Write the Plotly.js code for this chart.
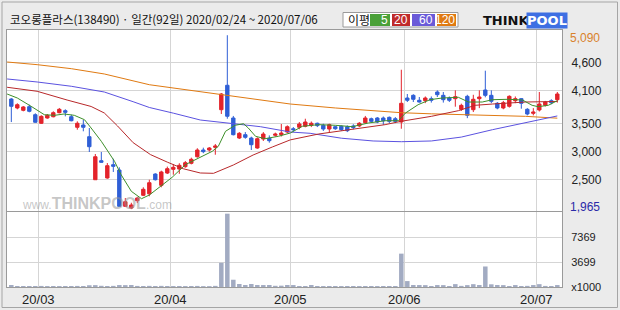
<!DOCTYPE html>
<html><head><meta charset="utf-8">
<script src="https://cdn.plot.ly/plotly-3.0.1.min.js"></script>
<style>html,body{margin:0;padding:0;background:#ebebeb;} #chart{width:620px;height:310px;}</style>
</head><body><div id="chart"></div>
<script>
// ---- data (daily candles, 2020/02/24 ~ 2020/07/06, 92 trading days) ----
const openP  = [3944,3783,3741,3806,3662,3508,3603,3626,3698,3734,3626,3436,3477,3267,2494,2836,2525,2764,2668,2016,1985,2117,2214,2240,2596,2393,2614,2681,2686,2728,2789,2907,3028,3028,3076,3752,4191,3603,3243,3303,3243,3064,3226,3238,3292,3303,3351,3410,3436,3454,3472,3508,3472,3405,3446,3454,3446,3460,3460,3518,3590,3603,3603,3615,3590,3531,3962,4010,3921,3914,3950,4070,4010,3962,3950,3759,3992,3752,3950,4106,4010,3867,3783,3813,3914,3950,3759,3687,3747,3831,3914,3932];
const highP  = [3960,3867,3818,3842,3687,3651,3674,3723,3783,3759,3662,3543,3567,3423,2956,2992,2794,2871,2717,2165,2080,2187,2358,2494,2610,2656,2730,2776,2790,2830,2890,3060,3070,3080,3135,4052,5090,3640,3350,3350,3267,3256,3350,3290,3340,3495,3470,3440,3530,3590,3540,3520,3500,3500,3460,3470,3470,3490,3530,3640,3610,3620,3630,3630,3620,4470,4034,4030,3980,3990,3990,4100,4070,3990,4100,3860,4020,4020,4100,4453,4100,3890,3910,4010,3990,3960,3780,3780,4070,3910,3940,4070];
const lowP   = [3530,3759,3723,3705,3520,3495,3590,3615,3687,3633,3543,3393,3364,2992,2494,2800,2512,2633,2010,2004,1965,2075,2200,2196,2480,2358,2596,2584,2600,2710,2770,2890,2970,3000,2943,3675,3590,3290,3225,3230,3028,3050,3190,3160,3270,3270,3330,3360,3400,3436,3440,3440,3370,3350,3390,3370,3350,3400,3440,3500,3520,3510,3480,3510,3510,3410,3890,3890,3880,3870,3880,3980,3880,3890,3806,3730,3600,3710,3780,3975,3870,3760,3760,3790,3870,3770,3650,3650,3720,3810,3850,3880];
const closeP = [3813,3842,3801,3723,3526,3633,3651,3698,3759,3705,3554,3508,3436,3087,2907,2807,2746,2735,2016,2099,2040,2165,2322,2440,2494,2633,2692,2717,2753,2800,2861,3028,2998,3064,3100,4034,3634,3303,3328,3256,3123,3231,3315,3195,3315,3333,3446,3393,3495,3531,3508,3466,3405,3483,3410,3393,3375,3430,3508,3603,3543,3531,3554,3543,3543,3867,3921,3939,3890,3962,3921,4022,3932,3921,3986,3830,3651,3939,3980,4010,3903,3783,3878,3992,3950,3867,3675,3710,3855,3890,3878,4034];
// volume, in thousands of shares
const volume = [300,150,150,150,150,160,140,150,140,150,150,160,150,260,280,180,150,170,290,280,300,160,150,170,150,170,150,140,150,140,150,160,130,130,170,3600,10900,1080,450,300,450,300,290,300,180,200,300,290,150,150,300,150,140,150,150,140,150,150,140,150,150,140,150,150,150,4960,880,300,290,280,150,290,280,150,430,170,280,420,300,3050,400,300,280,150,290,150,170,290,420,160,150,290];
// moving averages (x = trading-day index)
const ma5X  = [-0.7,1,3.3,5.5,7.2,8.8,10.5,12.2,13.3,15,17.2,18.3,20,21.7,23,24.5,26.8,29,31.2,33.5,34.5,35.7,37.3,38.7,39.5,40.7,42.3,44.5,46.5,48.5,51.2,54,56.8,59.5,62.3,64.5,65.7,67.8,69.8,71.8,74.5,76.2,78.5,80.2,82.8,85.2,86.8,87.8,89.5,91];
const ma5Y  = [4034,3962,3813,3662,3651,3675,3651,3572,3423,3184,2825,2584,2286,2153,2219,2345,2537,2764,2884,3005,3094,3364,3472,3500,3423,3274,3231,3274,3333,3454,3483,3472,3447,3513,3554,3554,3693,3842,3932,3962,3975,3890,3890,3932,3939,3926,3831,3806,3831,3914];
const ma20X = [-0.7,4.3,9.3,13.3,15.5,17.7,20.3,23.2,26,28.7,31.5,33.7,37,40.3,43.5,46.5,51.2,56.8,62.3,65,70,74.5,77.3,80.2,85.7,91];
const ma20Y = [4155,4083,3926,3810,3693,3460,3160,2945,2810,2690,2615,2609,2758,2938,3082,3210,3315,3393,3483,3544,3633,3734,3831,3854,3890,3900];
const ma60X = [-0.7,4.3,10,15.5,20.3,23,27,31.5,41.5,46.5,49.8,55,60.3,65,70,75,80.2,85.7,91];
const ma60Y = [4304,4250,4173,4070,3896,3792,3690,3567,3447,3351,3328,3240,3190,3177,3190,3260,3393,3513,3640];
const ma120X = [-0.7,4.3,10,15.5,23,29,34.5,39,46.5,54,62.3,65,70,77,85.7,91];
const ma120Y = [4609,4561,4489,4394,4201,4111,4022,3962,3854,3783,3723,3698,3678,3662,3633,3600];
// axis labels
const monthTickPos = [4.5,26.5,46.5,65.5,87.5];
const monthLabels  = ['20/03','20/04','20/05','20/06','20/07'];
const priceTickVals = [2500,3000,3500,4100,4600];
const priceTickText = ['2,500','3,000','3,500','4,100','4,600'];
const priceMax = 5090, priceMin = 1965;
const volTickVals = [0,3699,7369];
const volTickText = ['x1000','3699','7369'];
const titleText = '코오롱플라스(138490) · 일간(92일) 2020/02/24 ~ 2020/07/06';
const maNames = ['5','20','60','120'];
const maColors = ['#3d8f2a','#b8282a','#5b52e0','#e07a12'];

const idx = openP.map((_, i) => i);

// pixel -> paper helpers (plot area: x 7..562, y 30..287)
const PL=7, PR=562, PT=30, PB=287;
const px = x => (x-PL)/(PR-PL);
const py = y => (PB-y)/(PB-PT);

const maLine = (x, y, c) => ({type:'scatter', mode:'lines', x:x, y:y, xaxis:'x', yaxis:'y',
  line:{color:c, width:1}, hoverinfo:'skip'});

const traces = [
  maLine(ma120X, ma120Y, maColors[3]),
  maLine(ma60X, ma60Y, maColors[2]),
  maLine(ma20X, ma20Y, maColors[1]),
  maLine(ma5X, ma5Y, maColors[0]),
  {type:'candlestick', x:idx, open:openP, high:highP, low:lowP, close:closeP, xaxis:'x', yaxis:'y',
   increasing:{line:{color:'#e3232b', width:1}, fillcolor:'#e3232b'},
   decreasing:{line:{color:'#2f5fd6', width:1}, fillcolor:'#2f5fd6'},
   whiskerwidth:0, hoverinfo:'skip'},
  {type:'bar', x:idx, y:volume, xaxis:'x2', yaxis:'y2', marker:{color:'#a2abc2', line:{width:0}}, hoverinfo:'skip'}
];

const grid = '#d5d5d5', border = '#9a9a9a';
const font = {family:'Liberation Sans, Arial, sans-serif', size:12, color:'#222'};

const shapes = [
  {type:'rect', xref:'paper', yref:'paper', x0:px(2), x1:px(617.5), y0:py(2), y1:py(307.5), line:{color:'#a5a5a5', width:1}},
  {type:'rect', xref:'paper', yref:'paper', x0:px(343), x1:px(458), y0:py(12.5), y1:py(27), fillcolor:'#ffffff', line:{color:'#9a9a9a', width:1}},
  {type:'rect', xref:'paper', yref:'paper', x0:px(370), x1:px(390), y0:py(14), y1:py(26), fillcolor:'#4aa038', line:{width:0}},
  {type:'rect', xref:'paper', yref:'paper', x0:px(392), x1:px(410), y0:py(14), y1:py(26), fillcolor:'#c02a2a', line:{width:0}},
  {type:'rect', xref:'paper', yref:'paper', x0:px(412), x1:px(435), y0:py(14), y1:py(26), fillcolor:'#6a5ad8', line:{width:0}},
  {type:'rect', xref:'paper', yref:'paper', x0:px(437), x1:px(456), y0:py(14), y1:py(26), fillcolor:'#e07a12', line:{width:0}}
];

const ann = (x, y, text, extra) => Object.assign({xref:'paper', yref:'paper', x:x, y:y, text:text,
  showarrow:false, xanchor:'left', yanchor:'middle'}, extra||{});

const annotations = [
  ann(px(8), py(19.5), titleText, {font:{family:'Noto Sans CJK KR', size:11.5, color:'#111'}}),
  ann(px(346), py(19.5), '이평', {font:{family:'Noto Sans CJK KR', size:12, color:'#111'}}),
  ann(px(390), py(20), maNames[0], {xanchor:'right', font:{family:'Liberation Sans', size:12, color:'#fff'}}),
  ann(px(410), py(20), maNames[1], {xanchor:'right', font:{family:'Liberation Sans', size:12, color:'#fff'}}),
  ann(px(435), py(20), maNames[2], {xanchor:'right', font:{family:'Liberation Sans', size:12, color:'#fff'}}),
  ann(px(456.5), py(20), maNames[3], {xanchor:'right', font:{family:'Liberation Sans', size:12, color:'#fff'}}),
  ann(px(481), py(21), '<b>THINK</b>', {font:{family:'DejaVu Sans', size:13, color:'#111'}}),
  ann(px(526), py(21), '<b>POOL</b>', {bgcolor:'#3e6fe3', borderpad:0, font:{family:'DejaVu Sans', size:13, color:'#fff'}}),
  ann(px(20), py(203), 'www.<b><span style="font-size:16px">THINKPOOL</span></b>.com',
      {font:{family:'Liberation Sans', size:12, color:'rgba(150,150,150,0.55)'}}),
  {xref:'paper', yref:'y', x:1, y:priceMax, text:'5,090', showarrow:false, xanchor:'left', yanchor:'middle', xshift:6, yshift:-3,
   font:{family:'Liberation Sans', size:12, color:'#d9822b'}},
  {xref:'paper', yref:'y', x:1, y:priceMin, text:'1,965', showarrow:false, xanchor:'left', yanchor:'middle', xshift:6, yshift:2,
   font:{family:'Liberation Sans', size:12, color:'#2a2aa8'}}
];

const layout = {
  width:620, height:310,
  margin:{l:PL, r:620-PR, t:PT, b:310-PB, pad:0},
  paper_bgcolor:'#ebebeb', plot_bgcolor:'#ffffff',
  showlegend:false, hovermode:false, font:font,
  boxgap:0.2, bargap:0.25,
  xaxis:{domain:[0,1], anchor:'y', range:[-0.72,91.78], tickmode:'array', tickvals:monthTickPos, showticklabels:false,
         ticks:'', showgrid:true, gridcolor:grid, zeroline:false, showline:true, mirror:true, linecolor:border,
         rangeslider:{visible:false}, fixedrange:true},
  yaxis:{domain:[py(211),1], anchor:'x', side:'right', range:[1932,5184], tickmode:'array', tickvals:priceTickVals,
         ticktext:priceTickText, ticks:'', ticklabelstandoff:6, showgrid:true, gridcolor:grid, zeroline:false,
         showline:true, mirror:true, linecolor:border, tickfont:{family:'Liberation Sans', size:12, color:'#222'}, fixedrange:true},
  xaxis2:{domain:[0,1], anchor:'y2', range:[-0.72,91.78], tickmode:'array', tickvals:monthTickPos, ticktext:monthLabels,
          ticks:'', showgrid:true, gridcolor:grid, zeroline:false, showline:true, mirror:true, linecolor:border,
          tickfont:{family:'Liberation Sans', size:13, color:'#222'}, fixedrange:true},
  yaxis2:{domain:[0,py(212)], anchor:'x2', side:'right', range:[0,11150], tickmode:'array', tickvals:volTickVals,
          ticktext:volTickText, ticks:'', ticklabelstandoff:6, showgrid:true, gridcolor:grid, zeroline:false,
          showline:true, mirror:true, linecolor:border, tickfont:{family:'Liberation Sans', size:11, color:'#222'}, fixedrange:true},
  shapes:shapes, annotations:annotations
};

Plotly.newPlot('chart', traces, layout, {staticPlot:true, displayModeBar:false});
</script></body></html>
